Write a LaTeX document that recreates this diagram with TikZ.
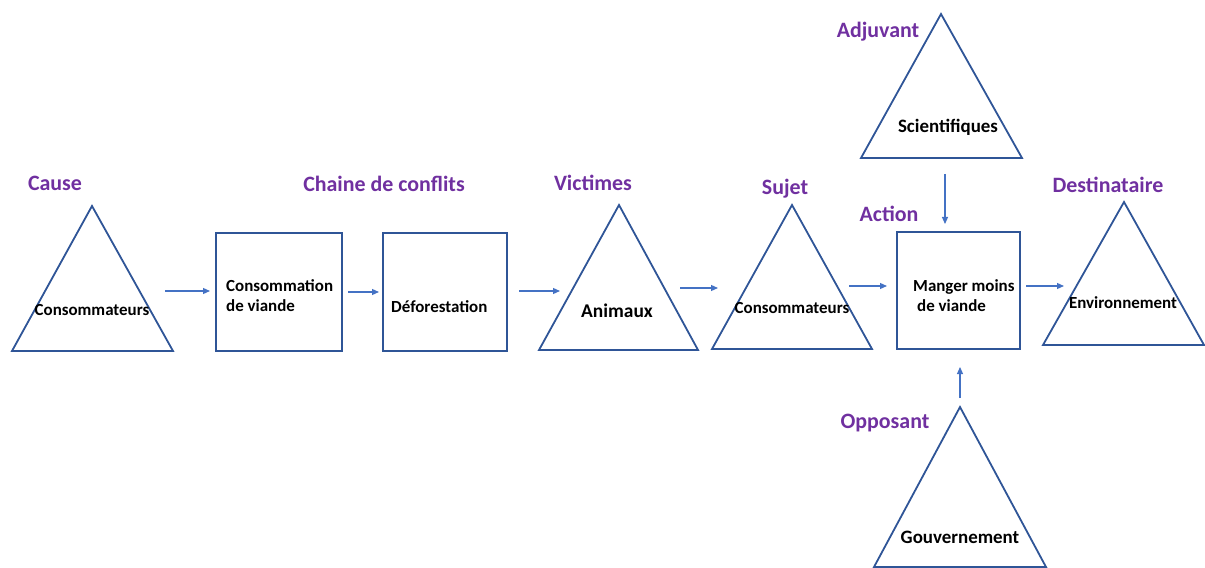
\documentclass[tikz,border=0pt]{standalone}
\usepackage{fontspec}
\setmainfont{Carlito}
\usetikzlibrary{
    positioning,
    arrows.meta
}
\definecolor{bordActant}{HTML}{2F5597}
\definecolor{flecheBleue}{HTML}{4472C4}
\definecolor{violetRole}{HTML}{7030A0}

\begin{document}
\begin{tikzpicture}[x=1bp, y=-1bp] % 1 unité = 1 pixel de l'image

    % --- Styles ---
    \tikzset{
        % contour des triangles
        tri_line/.style={
            draw=bordActant,
            line width=1.8bp,
            line join=miter
        },
        % carrés de la chaîne
        flow_box/.style={
            draw=bordActant,
            line width=1.8bp,
            rectangle,
            inner sep=0pt
        },
        % noms des rôles (en violet)
        role_label/.style={
            text=violetRole,
            font=\fontsize{22}{26}\selectfont\bfseries,
            inner sep=0pt
        },
        % texte dans les formes
        inner_text/.style={
            font=\fontsize{17}{20}\selectfont\bfseries,
            inner sep=0pt
        },
        % flèches
        flow_arrow/.style={
            -{Triangle[length=7bp,width=6bp]},
            draw=flecheBleue,
            line width=1.2bp
        }
    }

    \useasboundingbox (0,0) rectangle (1205,568);

    % --- Triangles ---
    \draw[tri_line] (12,351) -- (92,206) -- (173,351) -- cycle;     % cause
    \draw[tri_line] (539,350) -- (619,205) -- (698,350) -- cycle;   % victimes
    \draw[tri_line] (712,349) -- (792,205) -- (872,349) -- cycle;   % sujet
    \draw[tri_line] (1043,345) -- (1124,202) -- (1204,345) -- cycle; % destinataire
    \draw[tri_line] (861,158) -- (941,14) -- (1022,158) -- cycle;   % adjuvant
    \draw[tri_line] (874,567) -- (960,407) -- (1046,567) -- cycle;  % opposant

    % --- Carrés ---
    \node[flow_box, minimum width=126bp, minimum height=118bp] (conso) at (279,292) {};
    \node[flow_box, minimum width=124bp, minimum height=118bp] (defor) at (445,292) {};
    \node[flow_box, minimum width=123bp, minimum height=117bp] (action) at (958.5,290.5) {};

    % --- Rôles ---
    \node[role_label] (l_cause) at (55,183) {Cause};
    \node[role_label] (l_chaine) at (384,184) {Chaine de conflits};
    \node[role_label] (l_victimes) at (593,183) {Victimes};
    \node[role_label] (l_sujet) at (785,189) {Sujet};
    \node[role_label] (l_action) at (889,214) {Action};
    \node[role_label] (l_dest) at (1108,185) {Destinataire};
    \node[role_label] (l_adjuvant) at (878,32) {Adjuvant};
    \node[role_label] (l_opposant) at (885,423) {Opposant};

    % --- Textes ---
    \node[inner_text] (t_cause) at (92,310) {Consommateurs};
    \node[inner_text, anchor=west, align=left] (t_conso) at (226,296) {Consommation\\de viande};
    \node[inner_text, anchor=west] (t_defor) at (391,307) {Déforestation};
    \node[inner_text, font=\fontsize{19.5}{23}\selectfont\bfseries] (t_victimes) at (617,311) {Animaux};
    \node[inner_text] (t_sujet) at (792,308) {Consommateurs};
    \node[inner_text, anchor=west, align=left] (t_action) at (913,296) {Manger moins\\\hspace*{4bp}de viande};
    \node[inner_text] (t_dest) at (1123,303) {Environnement};
    \node[inner_text, font=\fontsize{19}{23}\selectfont\bfseries] (t_adjuvant) at (948,127) {Scientifiques};
    \node[inner_text, font=\fontsize{19}{23}\selectfont\bfseries] (t_opposant) at (960,537) {Gouvernement};

    % --- Extrémités des flèches ---
    \coordinate (a1) at (165,291);  \coordinate (b1) at (210,291);
    \coordinate (a2) at (348,292);  \coordinate (b2) at (379,292);
    \coordinate (a3) at (519,291);  \coordinate (b3) at (560,291);
    \coordinate (a4) at (680,288);  \coordinate (b4) at (718,288);
    \coordinate (a5) at (849,286);  \coordinate (b5) at (887,286);
    \coordinate (a6) at (1026,286); \coordinate (b6) at (1064,286);
    \coordinate (a7) at (945,174);  \coordinate (b7) at (945,224);
    \coordinate (a8) at (960,398);  \coordinate (b8) at (960,367);

    % --- Flèches ---
    \draw[flow_arrow] (a1) -- (b1);
    \draw[flow_arrow] (a2) -- (b2);
    \draw[flow_arrow] (a3) -- (b3);
    \draw[flow_arrow] (a4) -- (b4);
    \draw[flow_arrow] (a5) -- (b5);
    \draw[flow_arrow] (a6) -- (b6);
    \draw[flow_arrow] (a7) -- (b7);
    \draw[flow_arrow] (a8) -- (b8);

\end{tikzpicture}
\end{document}
